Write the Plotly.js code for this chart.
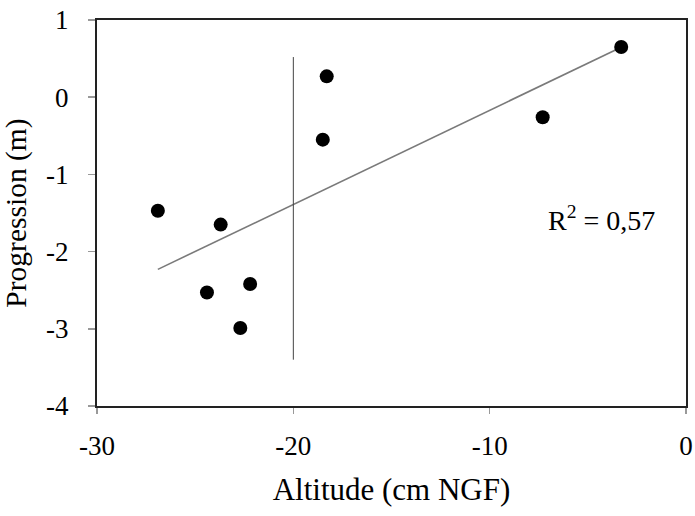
<!DOCTYPE html>
<html><head><meta charset="utf-8">
<script src="https://cdn.plot.ly/plotly-3.0.1.min.js"></script>
<style>html,body{margin:0;padding:0;background:#fff}#chart{width:695px;height:516px}</style>
</head><body><div id="chart"></div>
<script>
// Data
const altitude = [-26.9, -23.7, -24.4, -22.2, -22.7, -18.3, -18.5, -7.3, -3.3];
const progression = [-1.47, -1.65, -2.53, -2.42, -2.99, 0.27, -0.55, -0.26, 0.65];
const xTicks = [-30, -20, -10, 0];
const xTickText = ["-30", "-20", "-10", "0"];
const yTicks = [-4, -3, -2, -1, 0, 1];
const yTickText = ["-4", "-3", "-2", "-1", "0", "1"];
const thresholdX = [-20, -20];
const thresholdY = [0.52, -3.4];
const r2Label = "R<sup>2</sup> = 0,57";

// Least-squares trend line computed from the data
const n = altitude.length;
const mx = altitude.reduce((a,b)=>a+b,0)/n;
const my = progression.reduce((a,b)=>a+b,0)/n;
let sxy=0, sxx=0;
for (let i=0;i<n;i++){ sxy+=(altitude[i]-mx)*(progression[i]-my); sxx+=(altitude[i]-mx)**2; }
const slope = sxy/sxx, intercept = my - slope*mx;
const xmin = Math.min(...altitude), xmax = Math.max(...altitude);
const trendX = [xmin, xmax];
const trendY = trendX.map(x=>intercept+slope*x);

const font = "Liberation Serif, Times New Roman, serif";
const traces = [
  {x: trendX, y: trendY, mode:'lines', line:{color:'#7a7a7a', width:1.6}, hoverinfo:'skip'},
  {x: thresholdX, y: thresholdY, mode:'lines', line:{color:'#444', width:1}, hoverinfo:'skip'},
  {x: altitude, y: progression, mode:'markers', marker:{color:'#000', size:14}}
];
const layout = {
  width:695, height:516,
  margin:{l:97, r:9, t:20, b:110},
  showlegend:false,
  paper_bgcolor:'#fff', plot_bgcolor:'#fff',
  font:{family:font, color:'#000', size:20},
  xaxis:{range:[-30,0], tickvals:xTicks, ticktext:xTickText, ticks:'outside', ticklen:6, tickcolor:'#999', tickwidth:1.5,
    showline:true, linecolor:'#222', linewidth:2, mirror:true, showgrid:false, zeroline:false,
    ticklabelstandoff:9, tickfont:{size:27, family:font},
    title:{text:'Altitude (cm NGF)', font:{size:31, family:font}, standoff:18}},
  yaxis:{range:[-4,1], tickvals:yTicks, ticktext:yTickText, ticks:'outside', ticklen:7, tickcolor:'#999', tickwidth:1.5,
    showline:true, linecolor:'#222', linewidth:2, mirror:true, showgrid:false, zeroline:false,
    ticklabelstandoff:14, tickfont:{size:27, family:font},
    title:{text:'Progression (m)', font:{size:29.5, family:font}, standoff:18}},
  annotations:[{x:0.951, y:0.487, xref:'paper', yref:'paper', xanchor:'right', yanchor:'middle', text:r2Label, showarrow:false,
    font:{size:28, family:font, color:'#000'}}]
};
Plotly.newPlot('chart', traces, layout, {displayModeBar:false, staticPlot:true});
</script></body></html>
